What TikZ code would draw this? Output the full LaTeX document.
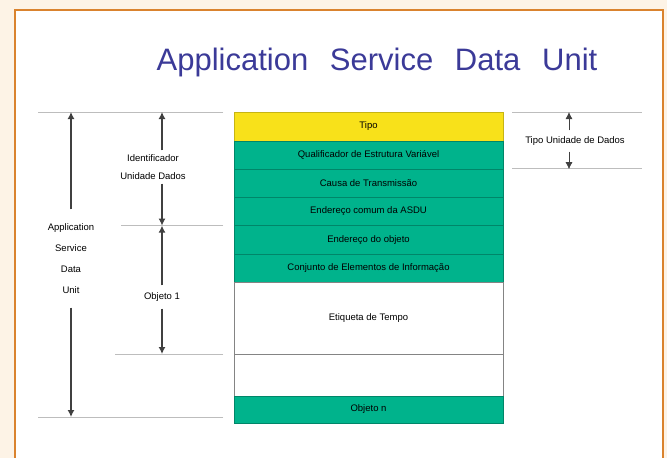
\documentclass[tikz,border=0pt]{standalone}
\usepackage{fontspec}
\setmainfont{Liberation Sans}
\usetikzlibrary{arrows.meta}
\definecolor{slidecream}{HTML}{FDF3E6}
\definecolor{slideorange}{HTML}{DA832E}
\definecolor{titleblue}{HTML}{3B3A98}
\definecolor{asdugreen}{HTML}{00B38C}
\definecolor{asduyellow}{HTML}{F8E11A}
\definecolor{guidegray}{HTML}{BDBDBD}
\newlength{\AsduRowWidth}
\setlength{\AsduRowWidth}{269pt}
\newlength{\AsduRowHeight}
\setlength{\AsduRowHeight}{28.2pt}
\tikzset{/ASDU/row/.style={
	shape=rectangle, draw=asdugreen!75!black, fill=asdugreen, minimum width=\AsduRowWidth, minimum height=\AsduRowHeight, inner sep=0pt, outer sep=0pt, font=\fontsize{9.5}{10}\selectfont
}}
\tikzset{/ASDU/blank/.style={/ASDU/row, fill=white, draw=guidegray!70!black}}
\tikzset{/ASDU/guide/.style={draw=guidegray, line width=0.8pt}}
\tikzset{/ASDU/span/.style={draw=black!75, line width=1.3pt, -{Latex[length=7pt,width=7pt]}}}
\tikzset{/ASDU/label/.style={align=center, inner xsep=0pt, font=\fontsize{9.5}{21}\selectfont}}

\begin{document}
\begin{tikzpicture}[x=1pt,y=-1pt]
	\useasboundingbox (0,0) rectangle (667,458);
	% slide frame
	\fill[slidecream] (0,0) rectangle (667,458);
	\fill[white] (15,10) rectangle (663,458);
	\draw[slideorange, line width=2.5pt] (15,458) -- (15,10) -- (663,10) -- (663,458);
	\path (377,70) node[anchor=base, text=titleblue, font=\fontsize{31}{36}\selectfont] (title) {Application\hspace{0.7em}Service\hspace{0.7em}Data\hspace{0.7em}Unit};
	% the ASDU rows
	\path (368.5,112) node[anchor=north, /ASDU/row, fill=asduyellow, draw=asduyellow!80!black, minimum height=29pt] (tipo) {Tipo};
	\path (tipo.south) node[anchor=north, /ASDU/row] (qual) {Qualificador de Estrutura Variável};
	\path (qual.south) node[anchor=north, /ASDU/row] (causa) {Causa de Transmissão};
	\path (causa.south) node[anchor=north, /ASDU/row] (comum) {Endereço comum da ASDU};
	\path (comum.south) node[anchor=north, /ASDU/row] (objaddr) {Endereço do objeto};
	\path (objaddr.south) node[anchor=north, /ASDU/row] (conj) {Conjunto de Elementos de Informação};
	\path (conj.south) node[anchor=north, /ASDU/blank, minimum height=72pt] (tempo) {Etiqueta de Tempo};
	\path (tempo.south) node[anchor=north, /ASDU/blank, minimum height=42pt] (vazio) {};
	\path (vazio.south) node[anchor=north, /ASDU/row, minimum height=27pt] (objn) {Objeto n};
	\path (objn.south west) ++(0,-6) coordinate (objnMark);
	% guide lines
	\draw[/ASDU/guide] (tipo.north west) ++(-11,0) -- ++(-185,0);
	\draw[/ASDU/guide] (comum.south west) ++(-11,0) -- ++(-102,0);
	\draw[/ASDU/guide] (tempo.south west) ++(-11,0) -- ++(-108,0);
	\draw[/ASDU/guide] (objnMark) ++(-11,0) -- ++(-185,0);
	\draw[/ASDU/guide] (tipo.north east) ++(9,0) -- ++(130,0);
	\draw[/ASDU/guide] (causa.north east) ++(9,-1) -- ++(130,0);
	% spans
	\path (71,258.5) node[/ASDU/label, inner ysep=14pt] (asduLbl) {Application\\Service\\Data\\Unit};
	\draw[/ASDU/span] (asduLbl) -- (asduLbl |- tipo.north);
	\draw[/ASDU/span] (asduLbl) -- (asduLbl |- objnMark);
	\path (162,297) node[/ASDU/label, inner ysep=7pt] (obj1Lbl) {Objeto 1};
	\draw[/ASDU/span] (obj1Lbl) -- (obj1Lbl |- comum.south);
	\path (153,167) node[/ASDU/label, font=\fontsize{9.5}{18}\selectfont, inner ysep=4pt] (idLbl) {Identificador\\Unidade Dados};
	\draw[/ASDU/span] (obj1Lbl) -- (obj1Lbl |- tempo.south);
	\draw[/ASDU/span] (idLbl.north -| obj1Lbl) -- (tipo.north -| obj1Lbl);
	\draw[/ASDU/span] (idLbl.south -| obj1Lbl) -- (comum.south -| obj1Lbl);
	\path (575,141) node[/ASDU/label, inner ysep=6pt] (tudLbl) {Tipo Unidade de Dados};
	\path (569,141) coordinate (tudAxis);
	\draw[/ASDU/span, line width=0.8pt] (tudAxis |- tudLbl.north) -- (tudAxis |- tipo.north);
	\draw[/ASDU/span, line width=0.8pt] (tudAxis |- tudLbl.south) -- (tudAxis |- causa.north);
\end{tikzpicture}
\end{document}
